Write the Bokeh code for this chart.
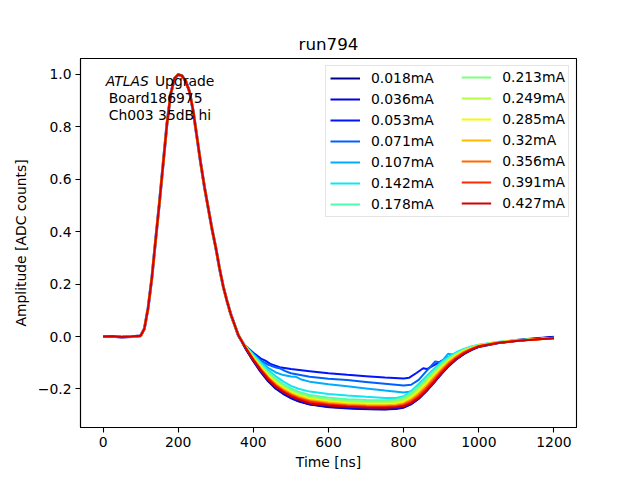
from bokeh.plotting import figure
from bokeh.models import (Range1d, FixedTicker, Legend, LegendItem, Label)
from bokeh.embed import file_html
from bokeh.resources import INLINE

# ---------------- data ----------------
LABELS = ["0.018mA", "0.036mA", "0.053mA", "0.071mA", "0.107mA", "0.142mA", "0.178mA",
          "0.213mA", "0.249mA", "0.285mA", "0.32mA", "0.356mA", "0.391mA", "0.427mA"]
COLORS = ["#00008f", "#0000dd", "#0014ff", "#0060ff", "#00acff", "#10e6f0", "#4affad",
          "#7dff7a", "#b4ff43", "#f1fc06", "#ffb900", "#ff6a00", "#ff2a00", "#d40000"]

# common pulse (all currents overlap here)
PULSE_T = [0, 25, 50, 75, 100, 110, 120, 130, 140, 150, 160, 170, 180, 190, 200, 210,
           220, 230, 240, 250, 260, 270, 280, 290, 300, 310, 320, 330, 340, 350, 360, 370]
PULSE_V = [0.0, 0.001, -0.002, 0.0, 0.003, 0.03, 0.11, 0.225, 0.37, 0.51, 0.66, 0.81,
           0.925, 0.985, 1.0, 0.995, 0.975, 0.935, 0.86, 0.76, 0.66, 0.57, 0.49, 0.41,
           0.34, 0.26, 0.19, 0.135, 0.085, 0.045, 0.005, -0.02]

# undershoot tails
TAIL_T = [380, 400, 420, 440, 460, 480, 500, 520, 550, 600, 650, 700, 750, 780, 800,
          820, 840, 860, 880, 900, 920, 940, 960, 980, 1000, 1050, 1100, 1150, 1200]

TAIL_0018 = [-0.046, -0.092, -0.134, -0.17, -0.198, -0.218, -0.234, -0.246, -0.258, -0.268,
             -0.273, -0.276, -0.277, -0.275, -0.27, -0.257, -0.236, -0.208, -0.176, -0.142,
             -0.111, -0.086, -0.066, -0.05, -0.038, -0.024, -0.015, -0.008, -0.002]
TAIL_0036 = [-0.046, -0.091, -0.133, -0.169, -0.197, -0.217, -0.233, -0.245, -0.257, -0.267,
             -0.272, -0.275, -0.276, -0.274, -0.269, -0.256, -0.235, -0.207, -0.175, -0.141,
             -0.11, -0.085, -0.065, -0.05, -0.038, -0.024, -0.015, -0.009, -0.003]

T_0053 = [380, 400, 420, 432, 445, 470, 500, 550, 600, 650, 700, 750, 800, 815, 835, 852,
          862, 880, 900, 920, 940, 960, 980, 1000, 1050, 1100, 1150, 1200]
TAIL_0053 = [-0.036, -0.062, -0.084, -0.092, -0.104, -0.117, -0.124, -0.132, -0.14, -0.146,
             -0.151, -0.156, -0.16, -0.157, -0.138, -0.121, -0.124, -0.11, -0.094, -0.079,
             -0.065, -0.053, -0.044, -0.037, -0.025, -0.016, -0.01, -0.005]

T_0071 = [380, 400, 420, 440, 460, 472, 485, 500, 550, 600, 650, 700, 750, 800, 820, 840,
          860, 884, 895, 910, 930, 950, 970, 1000, 1050, 1100, 1150, 1200]
TAIL_0071 = [-0.037, -0.066, -0.092, -0.108, -0.118, -0.122, -0.132, -0.14, -0.153, -0.161,
             -0.166, -0.173, -0.18, -0.187, -0.184, -0.165, -0.133, -0.095, -0.098, -0.085,
             -0.07, -0.057, -0.047, -0.037, -0.025, -0.016, -0.01, -0.005]

T_0107 = [380, 400, 420, 440, 460, 480, 500, 512, 530, 550, 600, 650, 700, 750, 800, 820,
          840, 860, 880, 900, 918, 930, 950, 970, 1000, 1050, 1100, 1150, 1200]
TAIL_0107 = [-0.037, -0.068, -0.097, -0.12, -0.137, -0.147, -0.152, -0.153, -0.165, -0.172,
             -0.182, -0.19, -0.198, -0.206, -0.213, -0.21, -0.193, -0.163, -0.131, -0.098,
             -0.066, -0.068, -0.058, -0.048, -0.037, -0.025, -0.016, -0.01, -0.005]

TAIL_0142 = [-0.037, -0.07, -0.1, -0.128, -0.152, -0.172, -0.188, -0.199, -0.21, -0.219,
             -0.225, -0.23, -0.234, -0.234, -0.228, -0.208, -0.181, -0.152, -0.124, -0.098,
             -0.077, -0.06, -0.047, -0.038, -0.031, -0.021, -0.014, -0.009, -0.005]
TAIL_0178 = [-0.038, -0.074, -0.107, -0.137, -0.162, -0.182, -0.198, -0.21, -0.223, -0.233,
             -0.239, -0.242, -0.243, -0.24, -0.232, -0.214, -0.189, -0.16, -0.132, -0.105,
             -0.082, -0.064, -0.05, -0.04, -0.032, -0.021, -0.014, -0.01, -0.006]
TAIL_0213 = [-0.039, -0.077, -0.111, -0.142, -0.168, -0.188, -0.204, -0.216, -0.229, -0.239,
             -0.245, -0.248, -0.248, -0.245, -0.238, -0.221, -0.196, -0.167, -0.138, -0.11,
             -0.086, -0.067, -0.052, -0.042, -0.033, -0.022, -0.015, -0.01, -0.006]
TAIL_0249 = [-0.04, -0.08, -0.115, -0.147, -0.173, -0.193, -0.209, -0.221, -0.234, -0.244,
             -0.25, -0.253, -0.253, -0.25, -0.244, -0.227, -0.203, -0.174, -0.144, -0.115,
             -0.09, -0.07, -0.054, -0.043, -0.034, -0.022, -0.015, -0.01, -0.006]
TAIL_0285 = [-0.041, -0.082, -0.118, -0.151, -0.177, -0.197, -0.213, -0.225, -0.238, -0.248,
             -0.254, -0.257, -0.258, -0.255, -0.249, -0.233, -0.21, -0.181, -0.15, -0.12,
             -0.093, -0.072, -0.056, -0.044, -0.034, -0.023, -0.015, -0.01, -0.006]
TAIL_0320 = [-0.042, -0.084, -0.121, -0.155, -0.181, -0.201, -0.217, -0.229, -0.242, -0.252,
             -0.258, -0.261, -0.262, -0.26, -0.254, -0.239, -0.216, -0.188, -0.156, -0.125,
             -0.097, -0.075, -0.058, -0.045, -0.035, -0.023, -0.016, -0.011, -0.006]
TAIL_0356 = [-0.043, -0.086, -0.124, -0.158, -0.185, -0.205, -0.221, -0.233, -0.246, -0.256,
             -0.262, -0.265, -0.266, -0.264, -0.258, -0.244, -0.222, -0.194, -0.162, -0.13,
             -0.101, -0.078, -0.06, -0.047, -0.036, -0.024, -0.016, -0.011, -0.006]
TAIL_0391 = [-0.044, -0.088, -0.127, -0.161, -0.188, -0.208, -0.224, -0.236, -0.249, -0.259,
             -0.265, -0.268, -0.269, -0.267, -0.262, -0.249, -0.228, -0.2, -0.168, -0.135,
             -0.105, -0.081, -0.062, -0.048, -0.037, -0.024, -0.016, -0.011, -0.006]
TAIL_0427 = [-0.045, -0.09, -0.13, -0.165, -0.192, -0.212, -0.228, -0.24, -0.255, -0.263,
             -0.268, -0.271, -0.272, -0.27, -0.266, -0.254, -0.234, -0.207, -0.175, -0.141,
             -0.11, -0.085, -0.065, -0.05, -0.038, -0.025, -0.017, -0.011, -0.006]

TAILS = [(TAIL_T, TAIL_0018), (TAIL_T, TAIL_0036), (T_0053, TAIL_0053), (T_0071, TAIL_0071),
         (T_0107, TAIL_0107), (TAIL_T, TAIL_0142), (TAIL_T, TAIL_0178), (TAIL_T, TAIL_0213),
         (TAIL_T, TAIL_0249), (TAIL_T, TAIL_0285), (TAIL_T, TAIL_0320), (TAIL_T, TAIL_0356),
         (TAIL_T, TAIL_0391), (TAIL_T, TAIL_0427)]

X_TICKS = [0, 200, 400, 600, 800, 1000, 1200]
Y_TICKS = [-0.2, 0.0, 0.2, 0.4, 0.6, 0.8, 1.0]
Y_TICK_LABELS = ["\u22120.2", "0.0", "0.2", "0.4", "0.6", "0.8", "1.0"]

FONT = "DejaVu Sans"

p = figure(width=632, height=472, output_backend="svg", toolbar_location=None,
           x_range=Range1d(-60, 1260), y_range=Range1d(-0.347, 1.061),
           min_border_left=80, min_border_right=56, min_border_top=58, min_border_bottom=45)

p.title.text = "run794"
p.title.align = "center"
p.title.text_font = FONT
p.title.text_font_size = "16.7px"
p.title.text_font_style = "normal"
p.title.text_color = "black"

p.grid.visible = False
p.outline_line_color = "black"
p.outline_line_width = 1.1
p.background_fill_color = "white"
p.border_fill_color = "white"

for ax in (p.xaxis[0], p.yaxis[0]):
    ax.axis_line_width = 1.1
    ax.major_tick_line_width = 1.1
    ax.major_tick_out = 5
    ax.major_tick_in = 0
    ax.minor_tick_out = 0
    ax.minor_tick_in = 0
    ax.major_label_text_font = FONT
    ax.major_label_text_font_size = "13.9px"
    ax.major_label_text_color = "black"
    ax.axis_label_text_font = FONT
    ax.axis_label_text_font_size = "13.9px"
    ax.axis_label_text_font_style = "normal"
    ax.axis_label_text_color = "black"
    ax.major_label_standoff = 4

p.xaxis.ticker = FixedTicker(ticks=X_TICKS)
p.yaxis.ticker = FixedTicker(ticks=Y_TICKS)
p.yaxis.major_label_overrides = {v: s for v, s in zip(Y_TICKS, Y_TICK_LABELS)}
p.xaxis.axis_label = "Time [ns]"
p.yaxis.axis_label = "Amplitude [ADC counts]"
p.xaxis.axis_label_standoff = 4
p.yaxis.axis_label_standoff = 6

renderers = []
for i, (lab, col) in enumerate(zip(LABELS, COLORS)):
    tt, vv = TAILS[i]
    xs = PULSE_T + tt
    ys = PULSE_V + vv
    if i < 2:
        # noisy low-current traces appear slightly fuzzier
        p.line(xs, ys, line_color=col, line_width=2.8, line_alpha=0.6)
    r = p.line(xs, ys, line_color=col, line_width=2)
    renderers.append(r)

leg1 = Legend(items=[LegendItem(label=LABELS[i], renderers=[renderers[i]]) for i in range(7)],
              location="top_right", margin=7, padding=4, spacing=5,
              glyph_width=30, glyph_height=16, label_height=16, label_width=193,
              label_standoff=11, label_text_font=FONT, label_text_font_size="13.9px",
              label_text_color="black",
              border_line_color="#cccccc", border_line_width=1,
              background_fill_color="white", background_fill_alpha=0.8)
leg2 = Legend(items=[LegendItem(label=LABELS[i], renderers=[renderers[i]]) for i in range(7, 14)],
              location="top_right", margin=7, padding=4, spacing=5,
              glyph_width=30, glyph_height=16, label_height=16, label_width=62,
              label_standoff=11, label_text_font=FONT, label_text_font_size="13.9px",
              label_text_color="black",
              border_line_alpha=0, background_fill_alpha=0)
p.add_layout(leg1)
p.add_layout(leg2)

lab_kw = dict(text_font=FONT, text_font_size="13.9px", text_color="black",
              text_baseline="alphabetic")
p.add_layout(Label(x=7, y=0.975, text="ATLAS", text_font_style="italic", **lab_kw))
p.add_layout(Label(x=138, y=0.975, text="Upgrade", **lab_kw))
p.add_layout(Label(x=15, y=0.910, text="Board186975", **lab_kw))
p.add_layout(Label(x=15, y=0.847, text="Ch003 35dB hi", **lab_kw))

open("out.html", "w").write(file_html(p, INLINE))
